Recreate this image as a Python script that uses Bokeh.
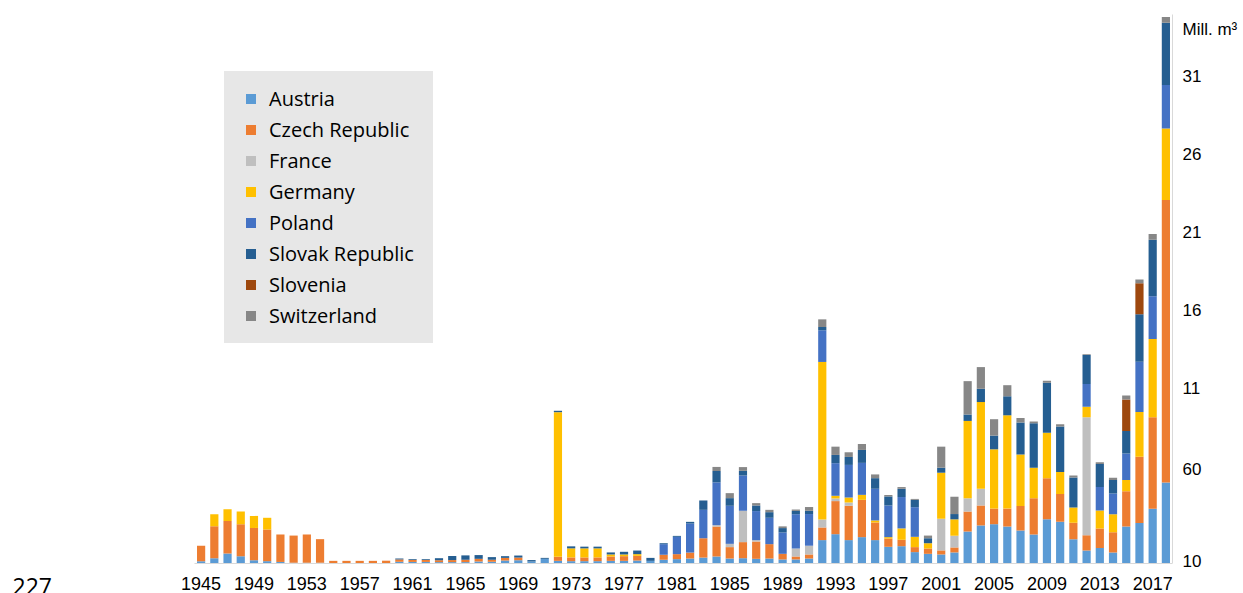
from bokeh.plotting import figure
from bokeh.models import ColumnDataSource, FixedTicker, Legend, LegendItem, Label, Range1d
from bokeh.embed import file_html
from bokeh.resources import INLINE

years = list(range(1945, 2019))

countries = ["Austria", "Czech Republic", "France", "Germany", "Poland",
             "Slovak Republic", "Slovenia", "Switzerland"]
colors = ["#5B9BD5", "#ED7D31", "#BFBFBF", "#FFC000", "#4472C4",
          "#255E91", "#9E480E", "#878787"]

# values in Mill. m3, 1945..2018
austria = [0.15, 0.34, 0.64, 0.47, 0.21, 0.15, 0.10, 0.05, 0.05, 0.05,
           0.03, 0.03, 0.03, 0.03, 0.03, 0.11, 0.10, 0.10, 0.09, 0.09,
           0.09, 0.13, 0.11, 0.19, 0.21, 0.13, 0.30, 0.17, 0.15, 0.15,
           0.15, 0.17, 0.17, 0.19, 0.17, 0.24, 0.28, 0.32, 0.38, 0.45,
           0.32, 0.34, 0.30, 0.32, 0.26, 0.26, 0.32, 1.50, 1.88, 1.50,
           1.69, 1.50, 1.07, 1.11, 0.73, 0.62, 0.58, 0.71, 2.05, 2.44,
           2.52, 2.37, 2.12, 1.86, 2.84, 2.67, 1.56, 0.83, 1.00, 0.71,
           2.37, 2.60, 3.51, 5.20]
czech = [0.98, 2.05, 2.09, 2.05, 2.07, 2.03, 1.76, 1.74, 1.81, 1.51,
         0.14, 0.14, 0.14, 0.14, 0.15, 0.15, 0.13, 0.13, 0.12, 0.13,
         0.15, 0.17, 0.13, 0.17, 0.17, 0.00, 0.00, 0.26, 0.24, 0.24,
         0.24, 0.28, 0.30, 0.30, 0.00, 0.32, 0.32, 0.38, 1.24, 1.92,
         0.73, 1.03, 1.11, 0.92, 0.36, 0.19, 0.26, 0.81, 2.12, 2.20,
         2.39, 1.13, 0.53, 0.41, 0.32, 0.34, 0.26, 0.32, 1.28, 1.28,
         1.00, 1.15, 1.56, 2.33, 2.63, 1.79, 1.05, 0.98, 1.24, 1.30,
         2.26, 4.25, 5.87, 18.10]
france = [0.0] * 39 + [0.09, 0.21, 2.01, 0.09, 0.00, 0.00, 0.51, 0.56, 0.51,
                       0.17, 0.21, 0.00, 0.00, 0.00, 0.00, 0.00, 0.00, 2.03,
                       0.75, 0.85, 1.07, 0.00, 0.00, 0.00, 0.00, 0.00, 0.00,
                       0.00, 7.56, 0.00, 0.00, 0.00, 0.00, 0.00, 0.00]
germany = [0.00, 0.77, 0.75, 0.81, 0.77, 0.75, 0.00, 0.00, 0.00, 0.00,
           0.00, 0.00, 0.00, 0.00, 0.00, 0.00, 0.00, 0.00, 0.00, 0.00,
           0.00, 0.00, 0.00, 0.00, 0.00, 0.00, 0.00, 9.27, 0.58, 0.58,
           0.58, 0.13, 0.11, 0.11, 0.00, 0.00, 0.00, 0.00, 0.00, 0.00,
           0.00, 0.00, 0.00, 0.00, 0.00, 0.00, 0.00, 10.10, 0.17, 0.32,
           0.32, 0.13, 0.09, 0.73, 0.66, 0.34, 2.95, 1.05, 4.96, 5.56,
           3.80, 5.98, 3.31, 1.94, 2.91, 1.41, 0.98, 0.68, 1.15, 1.15,
           0.73, 2.86, 5.01, 4.58]
poland = [0.0] * 35 + [0.68, 1.11, 1.86, 1.82, 2.74, 2.44, 2.26, 1.86, 1.69,
                       1.37, 2.20, 2.03, 2.03, 2.09, 2.09, 2.05, 2.03, 2.03,
                       2.01, 1.90, 0.00, 0.00, 0.00, 0.00, 0.00, 0.00, 0.00,
                       0.00, 0.00, 0.00, 0.00, 0.00, 1.45, 1.52, 1.32, 1.69,
                       3.22, 2.74, 2.79]
slovak = [0.00, 0.00, 0.00, 0.00, 0.00, 0.00, 0.00, 0.00, 0.00, 0.00,
          0.00, 0.00, 0.00, 0.00, 0.00, 0.06, 0.05, 0.05, 0.13, 0.26,
          0.28, 0.24, 0.17, 0.11, 0.13, 0.09, 0.06, 0.09, 0.13, 0.11,
          0.11, 0.13, 0.17, 0.23, 0.19, 0.06, 0.06, 0.11, 0.60, 0.73,
          0.49, 0.30, 0.36, 0.36, 0.28, 0.21, 0.21, 0.21, 0.53, 0.51,
          0.83, 0.68, 0.58, 0.53, 0.47, 0.32, 0.32, 0.34, 0.41, 0.85,
          0.88, 1.22, 2.05, 2.86, 3.21, 2.91, 1.92, 1.86, 1.47, 0.88,
          1.45, 3.05, 3.63, 4.00]
slovenia = [0.0] * 70 + [2.01, 1.98, 0.00, 0.00]
switzerland = [0.0] * 39 + [0.26, 0.32, 0.24, 0.15, 0.15, 0.11, 0.09, 0.24, 0.49,
                            0.53, 0.30, 0.38, 0.24, 0.09, 0.11, 0.06, 0.17, 1.35,
                            1.11, 2.14, 1.39, 1.05, 0.71, 0.28, 0.11, 0.13, 0.15,
                            0.13, 0.06, 0.11, 0.13, 0.26, 0.24, 0.36, 0.36]

x_ticks = list(range(1945, 2018, 4))
y_ticks = [0.1, 6, 11.2, 16.2, 21.2, 26.2, 31.2, 34.25]
y_tick_labels = ["10", "60", "11", "16", "21", "26", "31", "Mill. m\u00b3"]
page_number = "227"

source = ColumnDataSource(data={
    "year": years,
    "Austria": austria,
    "Czech Republic": czech,
    "France": france,
    "Germany": germany,
    "Poland": poland,
    "Slovak Republic": slovak,
    "Slovenia": slovenia,
    "Switzerland": switzerland,
})

PX_YEAR = 978 / 74.0
PX_UNIT = 15.6
x_start = 1944.5 - 194 / PX_YEAR
y_top = 549 / PX_UNIT
y_bottom = -30 / PX_UNIT

p = figure(frame_width=1172, frame_height=579,
           min_border_left=0, min_border_right=63,
           min_border_top=14, min_border_bottom=0,
           x_range=Range1d(x_start, 2018.5), y_range=Range1d(y_bottom, y_top),
           y_axis_location="right",
           output_backend="svg", toolbar_location=None)

p.vbar_stack(countries, x="year", width=0.62, source=source,
             fill_color=colors, line_color=None)

p.xgrid.visible = False
p.ygrid.visible = False
p.outline_line_color = None
p.background_fill_color = "white"
p.border_fill_color = "white"

xa = p.xaxis[0]
xa.fixed_location = 0
xa.bounds = (1944.5, 2018.5)
xa.ticker = FixedTicker(ticks=x_ticks)
xa.major_tick_line_color = None
xa.minor_tick_line_color = None
xa.axis_line_color = "#D9D9D9"
xa.major_label_standoff = 7
xa.major_label_text_font = "Liberation Sans"
xa.major_label_text_font_size = "18px"
xa.major_label_text_color = "#000000"

ya = p.yaxis[0]
ya.bounds = (0, y_top)
ya.ticker = FixedTicker(ticks=y_ticks)
ya.major_label_overrides = {t: lab for t, lab in zip(y_ticks, y_tick_labels)}
ya.major_tick_line_color = None
ya.minor_tick_line_color = None
ya.axis_line_color = "#D9D9D9"
ya.major_label_standoff = 4
ya.major_label_text_font = "Liberation Sans"
ya.major_label_text_font_size = "17px"
ya.major_label_text_color = "#000000"

p.add_layout(Label(x=12, y=16, x_units="screen", y_units="screen",
                   text=page_number, text_font="Open Sans", text_font_size="23px",
                   text_baseline="top", text_align="left", text_color="#000000"))

items = []
for name, c in zip(countries, colors):
    r = p.scatter(x=[1900], y=[-10], marker="square", size=10, fill_color=c, line_color=None)
    items.append(LegendItem(label=name, renderers=[r]))

legend = Legend(items=items, location=(224, 250), orientation="vertical",
                glyph_width=25, glyph_height=25, label_height=25, label_width=150,
                label_standoff=6, spacing=4, padding=13, margin=0,
                background_fill_color="#E7E7E7", background_fill_alpha=1.0,
                border_line_color="#E7E7E7", border_line_width=1,
                label_text_font="Open Sans", label_text_font_size="20px",
                label_text_color="#000000")
p.add_layout(legend, "center")

open("out.html", "w").write(file_html(p, INLINE))
